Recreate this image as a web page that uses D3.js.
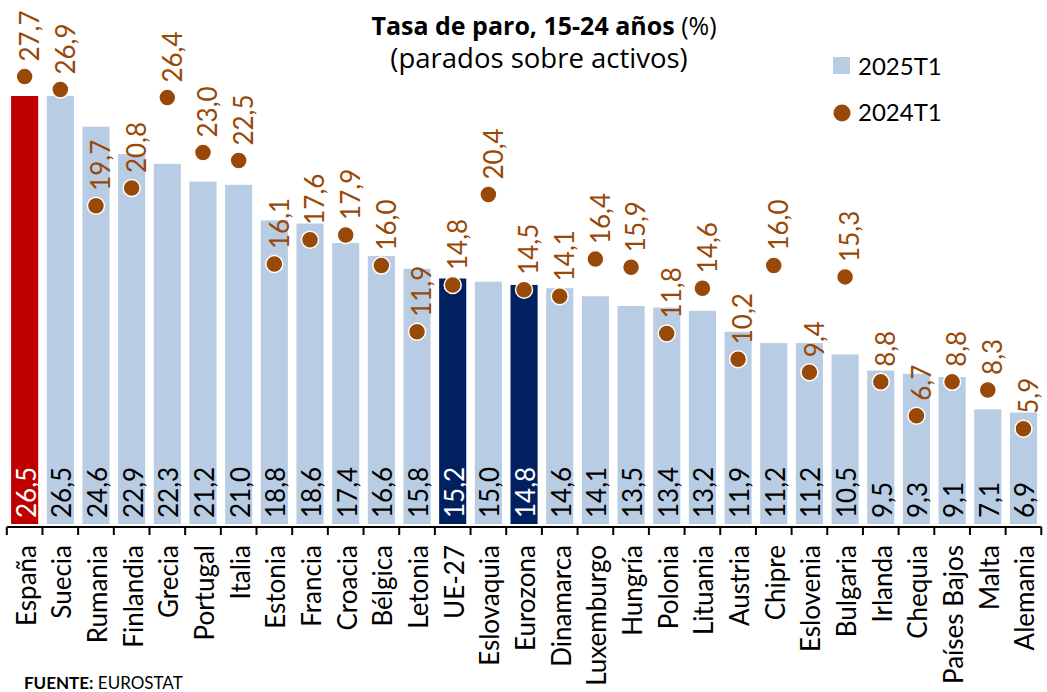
<!DOCTYPE html>
<html lang="es">
<head>
<meta charset="utf-8">
<script src="https://cdn.jsdelivr.net/npm/d3@7"></script>
<style>
  html, body { margin: 0; padding: 0; background: #fff; }
  svg { display: block; font-family: Lato, "Open Sans", sans-serif; }
</style>
</head>
<body>
<svg id="chart" width="1047" height="692"></svg>
<script>
// Youth unemployment rate, 15-24 years (%), EU countries
const categories = ["España","Suecia","Rumania","Finlandia","Grecia","Portugal","Italia","Estonia","Francia","Croacia","Bélgica","Letonia","UE-27","Eslovaquia","Eurozona","Dinamarca","Luxemburgo","Hungría","Polonia","Lituania","Austria","Chipre","Eslovenia","Bulgaria","Irlanda","Chequia","Países Bajos","Malta","Alemania"];
const values2025 = [26.5,26.5,24.6,22.9,22.3,21.2,21.0,18.8,18.6,17.4,16.6,15.8,15.2,15.0,14.8,14.6,14.1,13.5,13.4,13.2,11.9,11.2,11.2,10.5,9.5,9.3,9.1,7.1,6.9];
const values2024 = [27.7,26.9,19.7,20.8,26.4,23.0,22.5,16.1,17.6,17.9,16.0,11.9,14.8,20.4,14.5,14.1,16.4,15.9,11.8,14.6,10.2,16.0,9.4,15.3,8.8,6.7,8.8,8.3,5.9];
const seriesNames = ["2025T1", "2024T1"];
const highlightSpain = ["España"];
const highlightAggregates = ["UE-27", "Eurozona"];

const colBar = "#b8cce4", colSpain = "#c00000", colAgg = "#002060", colDot = "#984807";
const fmt = v => d3.format(".1f")(v).replace(".", ",");

const svg = d3.select("#chart");
const baseY = 524;

const x = d3.scaleBand().domain(categories).range([6.8, 1041.3])
  .paddingInner(0.24).paddingOuter(0.12);
const y = d3.scaleLinear().domain([0, 26.5]).range([baseY, 96]);

const rows = categories.map((c, i) => ({ c, v25: values2025[i], v24: values2024[i] }));
const barColor = c => highlightSpain.includes(c) ? colSpain : highlightAggregates.includes(c) ? colAgg : colBar;
const darkBar = c => highlightSpain.includes(c) || highlightAggregates.includes(c);

// bars (2025T1)
svg.append("g").selectAll("rect").data(rows).join("rect")
  .attr("x", d => x(d.c))
  .attr("y", d => y(d.v25))
  .attr("width", x.bandwidth())
  .attr("height", d => y(0) - y(d.v25))
  .attr("fill", d => barColor(d.c));

// value labels inside bars
svg.append("g").selectAll("text").data(rows).join("text")
  .attr("transform", d => `translate(${x(d.c) + x.bandwidth() / 2 + 1.5},${baseY - 6}) rotate(-90)`)
  .attr("dy", "0.36em")
  .attr("font-size", 26)
  .attr("fill", d => darkBar(d.c) ? "#fff" : "#000")
  .text(d => fmt(d.v25));

// dots (2024T1)
svg.append("g").selectAll("circle").data(rows).join("circle")
  .attr("cx", d => x(d.c) + x.bandwidth() / 2)
  .attr("cy", d => y(d.v24))
  .attr("r", 8.5)
  .attr("fill", colDot)
  .attr("stroke", "#fff")
  .attr("stroke-width", 1.5);

// dot labels
svg.append("g").selectAll("text").data(rows).join("text")
  .attr("transform", d => `translate(${x(d.c) + x.bandwidth() / 2 + 5},${y(d.v24) - 15}) rotate(-90)`)
  .attr("dy", "0.36em")
  .attr("font-size", 26)
  .attr("fill", colDot)
  .text(d => fmt(d.v24));

// category axis: labels from the band scale, ticks between categories
const axisG = svg.append("g").attr("transform", `translate(0,${baseY + 3})`);
axisG.call(d3.axisBottom(x).tickSize(0).tickPadding(0));
axisG.select(".domain").remove();
axisG.selectAll(".tick text")
  .attr("font-family", "Lato, 'Open Sans', sans-serif")
  .attr("font-size", 26)
  .attr("fill", "#000")
  .attr("text-anchor", "end")
  .attr("transform", "translate(1.5,18) rotate(-90)")
  .attr("x", 0).attr("y", 0)
  .attr("dy", "0.36em");

const step = x.step();
const bounds = categories.map(c => x(c) - (step - x.bandwidth()) / 2);
bounds.push(x(categories[categories.length - 1]) + x.bandwidth() + (step - x.bandwidth()) / 2);
axisG.append("line")
  .attr("x1", bounds[0]).attr("x2", bounds[bounds.length - 1])
  .attr("stroke", "#000").attr("stroke-width", 2);
axisG.selectAll("line.tk").data(bounds).join("line").attr("class", "tk")
  .attr("x1", d => d).attr("x2", d => d)
  .attr("y1", 0).attr("y2", 8)
  .attr("stroke", "#000").attr("stroke-width", 2);

// title
const title = svg.append("text").attr("x", 544).attr("y", 35)
  .attr("text-anchor", "middle").attr("font-size", 25)
  .attr("font-family", "'Open Sans', Lato, sans-serif").attr("fill", "#000");
title.append("tspan").attr("font-weight", "bold").text("Tasa de paro, 15-24 años");
title.append("tspan").text(" (%)");
svg.append("text").attr("x", 539).attr("y", 68)
  .attr("text-anchor", "middle").attr("font-size", 27.5)
  .attr("font-family", "'Open Sans', Lato, sans-serif").attr("fill", "#000")
  .text("(parados sobre activos)");

// legend
const lg = svg.append("g");
lg.append("rect").attr("x", 833).attr("y", 57).attr("width", 17).attr("height", 17).attr("fill", colBar);
lg.append("text").attr("x", 858).attr("y", 75).attr("font-size", 24).text(seriesNames[0]);
lg.append("circle").attr("cx", 842).attr("cy", 113).attr("r", 8.5).attr("fill", colDot);
lg.append("text").attr("x", 858).attr("y", 121).attr("font-size", 24).text(seriesNames[1]);

// source
const src = svg.append("text").attr("x", 24).attr("y", 689).attr("font-size", 17).attr("fill", "#000");
src.append("tspan").attr("font-weight", "bold").text("FUENTE:");
src.append("tspan").text(" EUROSTAT");
</script>
</body>
</html>
